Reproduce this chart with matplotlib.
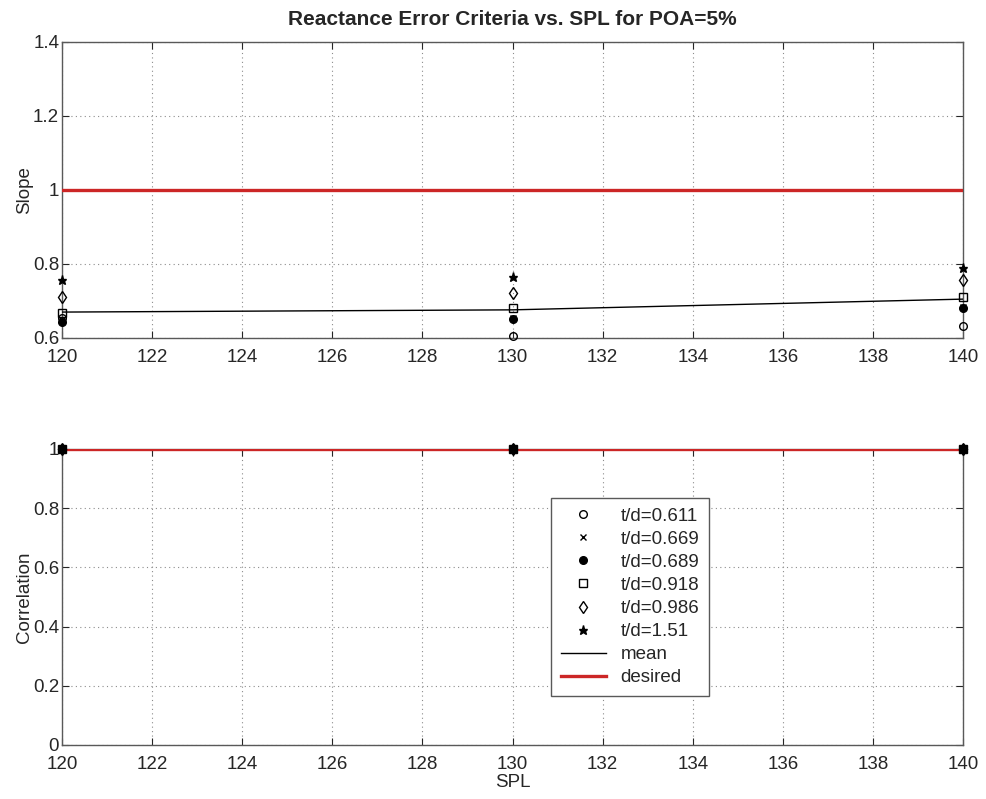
import matplotlib
matplotlib.use("Agg")
import matplotlib.pyplot as plt
import numpy as np

plt.rcParams['font.family'] = ['Liberation Sans', 'DejaVu Sans']

spl = [120, 130, 140]
labels = ["t/d=0.611", "t/d=0.669", "t/d=0.689", "t/d=0.918", "t/d=0.986", "t/d=1.51"]
slope = {
    "t/d=0.611": [0.655, 0.605, 0.632],
    "t/d=0.669": [0.648, 0.655, 0.685],
    "t/d=0.689": [0.643, 0.652, 0.680],
    "t/d=0.918": [0.668, 0.680, 0.710],
    "t/d=0.986": [0.710, 0.722, 0.757],
    "t/d=1.51":  [0.757, 0.765, 0.790],
}
slope_mean = [0.670, 0.676, 0.705]
corr = {
    "t/d=0.611": [1.0, 1.0, 1.0],
    "t/d=0.669": [1.0, 1.0, 1.0],
    "t/d=0.689": [1.0, 1.0, 1.0],
    "t/d=0.918": [1.0, 1.0, 1.0],
    "t/d=0.986": [1.0, 1.0, 1.0],
    "t/d=1.51":  [1.0, 1.0, 1.0],
}
corr_mean = [1.0, 1.0, 1.0]
desired_slope = [1.0, 1.0, 1.0]
desired_corr = [1.0, 1.0, 1.0]

styles = [
    dict(marker='o', mfc='none', ms=5.5),
    dict(marker='x', ms=4.5),
    dict(marker='o', mfc='black', ms=5.5),
    dict(marker='s', mfc='none', ms=5.5),
    dict(marker='d', mfc='none', ms=6),
    dict(marker='*', mfc='black', ms=6.5),
]
red = (0.80, 0.15, 0.15)
fs = 13.5

fig = plt.figure(figsize=(9.87, 7.99), dpi=100)
ax1 = fig.add_axes([0.0628, 0.577, 0.913, 0.3705])
ax2 = fig.add_axes([0.0628, 0.0676, 0.913, 0.3705])

def style_axes(ax):
    ax.set_xlim(120, 140)
    ax.set_xticks(np.arange(120, 141, 2))
    ax.grid(True, linestyle=(0, (1, 3)), color='0.55', linewidth=0.8)
    ax.tick_params(direction='in', length=5, top=True, right=True,
                   labelsize=fs, colors='0.15', pad=2)
    ax.tick_params(axis='x', pad=8)
    for s in ax.spines.values():
        s.set_color('0.35')
        s.set_linewidth(1.0)
    ax.set_axisbelow(True)

for lab, st in zip(labels, styles):
    ax1.plot(spl, slope[lab], linestyle='none', color='black', mec='black',
             mew=1.0, label=lab, clip_on=False, zorder=4, **st)
ax1.plot(spl, slope_mean, color='black', lw=1.0, label='mean', zorder=3)
ax1.plot(spl, desired_slope, color=red, lw=2.4, label='desired', zorder=3)
style_axes(ax1)
ax1.set_ylim(0.6, 1.4)
ax1.set_yticks([0.6, 0.8, 1.0, 1.2, 1.4])
ax1.set_yticklabels(['0.6', '0.8', '1', '1.2', '1.4'])
ax1.set_ylabel('Slope', fontsize=fs, color='0.15', labelpad=0)
ax1.set_title('Reactance Error Criteria vs. SPL for POA=5%', fontsize=15,
              fontweight='bold', color='0.15', pad=12)

for lab, st in zip(labels, styles):
    ax2.plot(spl, corr[lab], linestyle='none', color='black', mec='black',
             mew=1.0, label=lab, clip_on=False, zorder=4, **st)
ax2.plot(spl, corr_mean, color='black', lw=1.0, label='mean', zorder=3)
ax2.plot(spl, desired_corr, color=red, lw=2.4, label='desired', zorder=3)
style_axes(ax2)
ax2.set_ylim(0, 1)
ax2.set_yticks([0, 0.2, 0.4, 0.6, 0.8, 1.0])
ax2.set_yticklabels(['0', '0.2', '0.4', '0.6', '0.8', '1'])
ax2.set_ylabel('Correlation', fontsize=fs, color='0.15', labelpad=0)
ax2.set_xlabel('SPL', fontsize=fs, color='0.15', labelpad=1)

leg = ax2.legend(loc='upper left', bbox_to_anchor=(0.543, 0.834),
                 borderaxespad=0, fontsize=fs, numpoints=1,
                 fancybox=False, framealpha=1, edgecolor='0.35',
                 handlelength=2.4, labelspacing=0.32, borderpad=0.5,
                 handletextpad=0.8)
leg.get_frame().set_linewidth(1.0)
for t in leg.get_texts():
    t.set_color('0.15')

fig.savefig('out.png', dpi=100)
